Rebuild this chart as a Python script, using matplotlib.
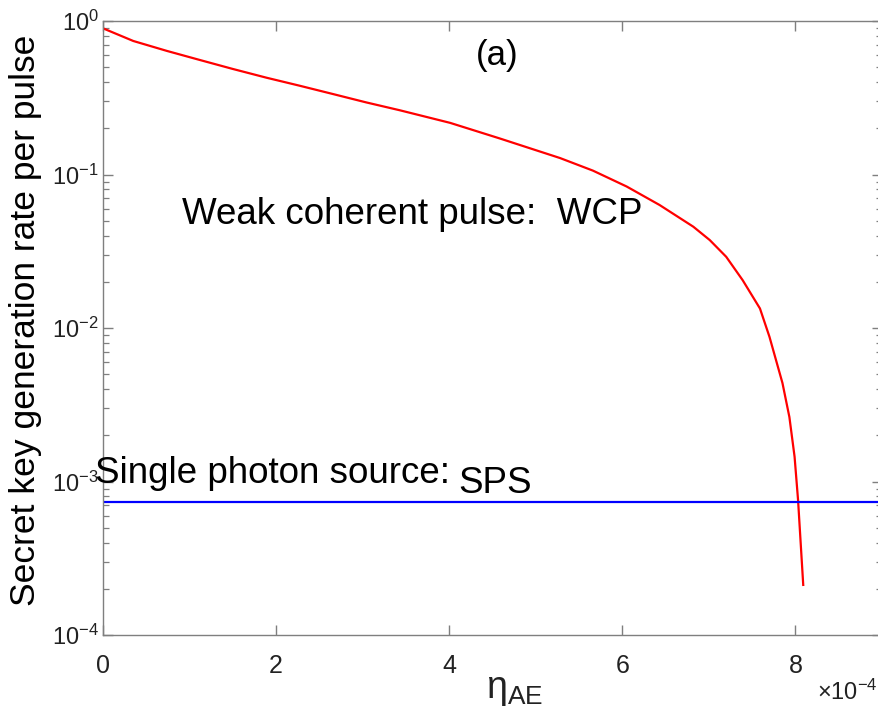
import numpy as np
import matplotlib
matplotlib.use('Agg')
import matplotlib.pyplot as plt
from matplotlib.ticker import FuncFormatter, FixedLocator

plt.rcParams['font.family'] = ['Liberation Sans', 'DejaVu Sans']
plt.rcParams['mathtext.fontset'] = 'custom'
plt.rcParams['mathtext.rm'] = 'Liberation Sans'
plt.rcParams['mathtext.it'] = 'Liberation Sans:italic'
plt.rcParams['mathtext.default'] = 'regular'

# eta_AE values (real units) and key rate of the weak coherent pulse source
eta_wcp = np.array([0.0, 0.35, 0.74, 1.12, 1.50, 1.89, 2.27, 2.66, 3.04, 3.43, 4.01, 4.58,
                    5.28, 5.66, 6.05, 6.43, 6.82, 7.01, 7.20, 7.39, 7.59, 7.70, 7.85,
                    7.93, 7.99, 8.03, 8.09]) * 1e-4
rate_wcp = np.array([0.896, 0.741, 0.638, 0.557, 0.487, 0.427, 0.379, 0.334, 0.295, 0.262,
                     0.217, 0.172, 0.128, 0.106, 0.0835, 0.0633, 0.0457, 0.0374, 0.0291,
                     0.0205, 0.0134, 0.00876, 0.00438, 0.00263, 0.00145, 7.6e-4, 2.12e-4])

# single photon source: constant rate
eta_sps = np.array([0.0, 9.0]) * 1e-4
rate_sps = np.array([7.32e-4, 7.32e-4])

xticks = [0, 2e-4, 4e-4, 6e-4, 8e-4]
yticks = [1e-4, 1e-3, 1e-2, 1e-1, 1]

fig = plt.figure(figsize=(8.79, 7.11), dpi=100)
ax = fig.add_axes([103 / 879, 1 - 635 / 711, 779 / 879, 614 / 711])

ax.plot(eta_wcp, rate_wcp, color='#ff0000', lw=1.6)
ax.plot(eta_sps, rate_sps, color='#0000ff', lw=1.6)

ax.set_yscale('log')
ax.set_xlim(0, 9e-4)
ax.set_ylim(1e-4, 1)
ax.set_xticks(xticks)
ax.xaxis.set_major_formatter(FuncFormatter(lambda v, p: f'{v * 1e4:.0f}'))
ax.yaxis.set_major_locator(FixedLocator(yticks))
ax.yaxis.set_major_formatter(FuncFormatter(
    lambda v, p: '10$^{%s}$' % str(int(round(np.log10(v))))))
minors = [m * 10.0 ** e for e in range(-4, 0) for m in range(2, 10)]
ax.yaxis.set_minor_locator(FixedLocator(minors))

grey = '#7f7f7f'
for s in ax.spines.values():
    s.set_color(grey)
    s.set_linewidth(1.0)
ax.tick_params(which='both', direction='in', top=True, right=True, color=grey)
ax.tick_params(which='major', length=7, width=1.0)
ax.tick_params(which='minor', length=4, width=0.9)
ax.tick_params(axis='x', labelsize=18, pad=14, labelcolor='#222222')
ax.tick_params(axis='y', labelsize=17, pad=3, labelcolor='#222222')

ax.set_ylabel('Secret key generation rate per pulse', fontsize=25.5)
ax.yaxis.set_label_coords(-0.078, 0.513)

fig.text(515 / 879, 1 - 690 / 711, r'$\eta_{AE}$', fontsize=27, color='#222222',
         ha='center', va='center')
fig.text(878 / 879, 1 - 692 / 711, r'$\times10^{-4}$', fontsize=17, color='#222222',
         ha='right', va='center')

ax.text(4.55e-4, 0.6, '(a)', fontsize=25, ha='center', va='center')
ax.text(0.91e-4, 0.0545, 'Weak coherent pulse:  WCP', fontsize=26.5, ha='left', va='center')
ax.text(-0.09e-4, 1.12e-3, 'Single photon source:', fontsize=26.5, ha='left', va='center',
        clip_on=False)
ax.text(4.1e-4, 0.97e-3, 'SPS', fontsize=26.5, ha='left', va='center')

fig.savefig('out.png', dpi=100)
